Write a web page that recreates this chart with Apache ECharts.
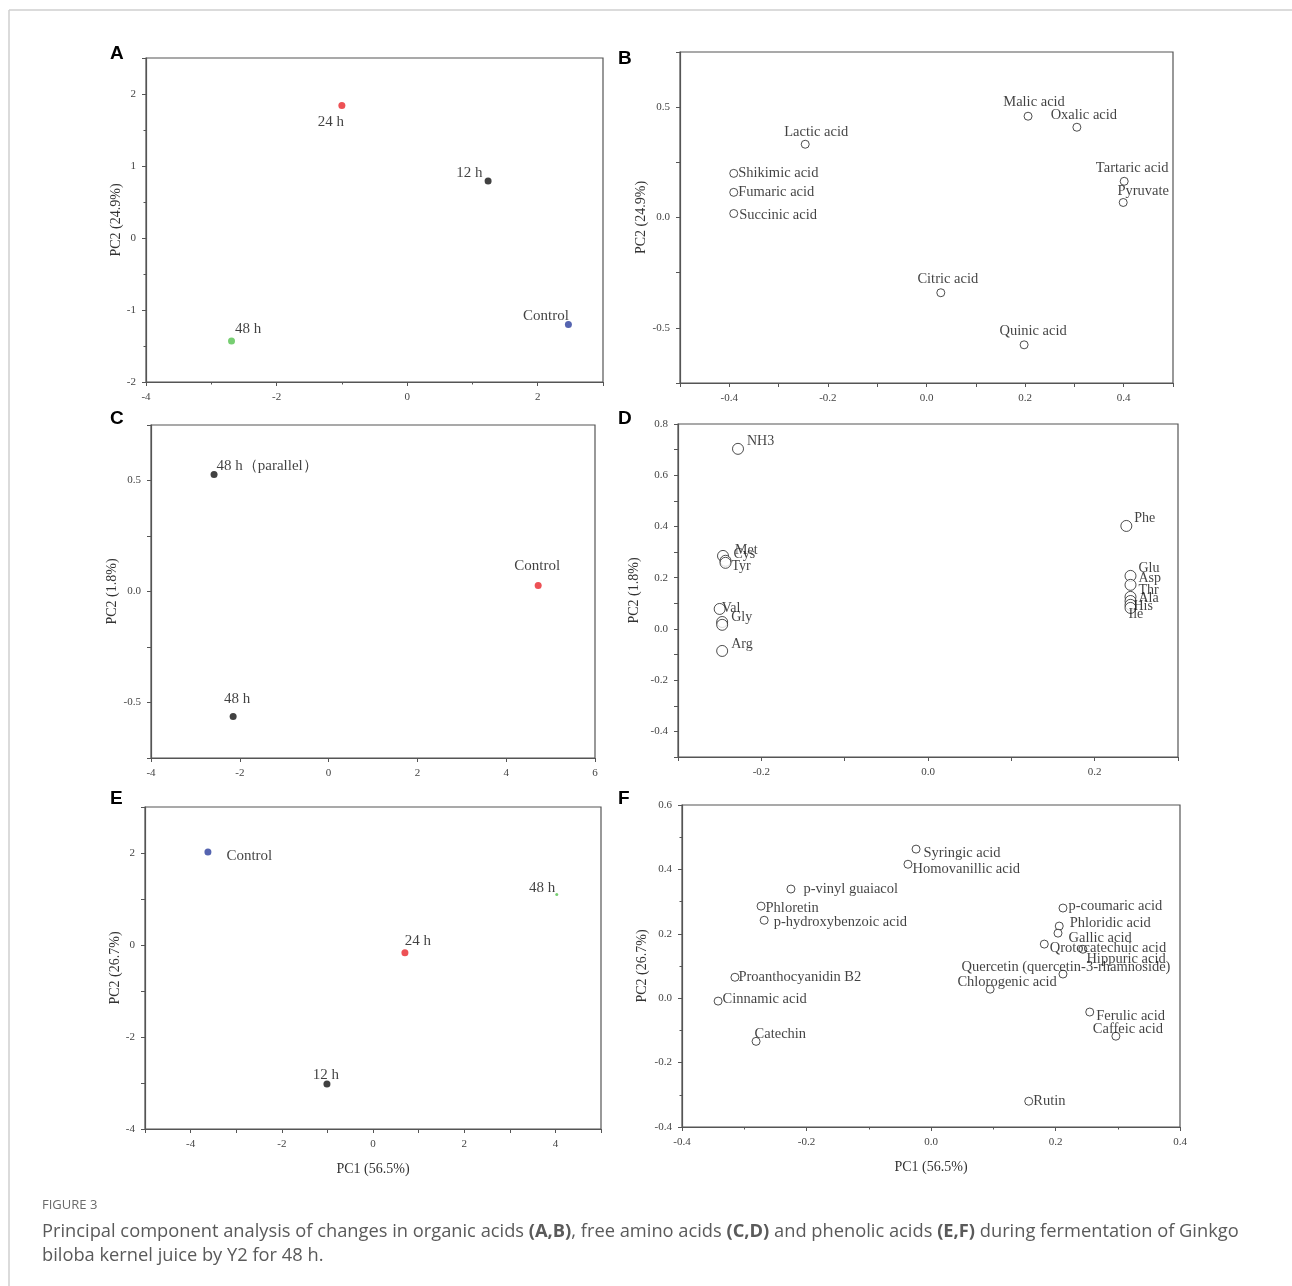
<!DOCTYPE html>
<html><head><meta charset="utf-8">
<script src="https://cdn.jsdelivr.net/npm/echarts@6/dist/echarts.min.js"></script>
<style>html,body{margin:0;padding:0;background:#fff}#c{width:1292px;height:1286px}</style>
</head><body><div id="c"></div>
<script>
// ---------- DATA ----------
// Panel A: organic acids, scores
const aNames = ['24 h', '12 h', 'Control', '48 h'];
const aPC1 = [-1.00, 1.24, 2.47, -2.69];
const aPC2 = [1.84, 0.79, -1.20, -1.43];
// Panel B: organic acids, loadings
const bNames = ['Malic acid', 'Oxalic acid', 'Lactic acid', 'Shikimic acid', 'Fumaric acid', 'Succinic acid', 'Tartaric acid', 'Pyruvate', 'Citric acid', 'Quinic acid'];
const bPC1 = [0.206, 0.305, -0.246, -0.391, -0.391, -0.391, 0.401, 0.399, 0.029, 0.198];
const bPC2 = [0.459, 0.409, 0.332, 0.200, 0.114, 0.018, 0.164, 0.068, -0.341, -0.577];
// Panel C: free amino acids, scores
const cNames = ['48 h（parallel）', 'Control', '48 h'];
const cPC1 = [-2.58, 4.72, -2.15];
const cPC2 = [0.527, 0.027, -0.563];
// Panel D: free amino acids, loadings
const dNames = ['NH3', 'Phe', 'Met', 'Cys', 'Tyr', 'Val', 'Gly', '', 'Arg', 'Glu', 'Asp', 'Thr', 'Ala', 'His', 'Ile'];
const dPC1 = [-0.228, 0.238, -0.246, -0.243, -0.243, -0.250, -0.247, -0.247, -0.247, 0.243, 0.243, 0.243, 0.243, 0.243, 0.243];
const dPC2 = [0.703, 0.402, 0.285, 0.266, 0.258, 0.078, 0.027, 0.016, -0.086, 0.207, 0.172, 0.125, 0.109, 0.094, 0.082];
// Panel E: phenolic acids, scores
const eNames = ['Control', '24 h', '12 h', '48 h'];
const ePC1 = [-3.62, 0.70, -1.01, 4.03];
const ePC2 = [2.02, -0.17, -3.02, 1.10];
// Panel F: phenolic acids, loadings
const fNames = ['Syringic acid', 'Homovanillic acid', 'p-vinyl guaiacol', 'Phloretin', 'p-hydroxybenzoic acid', 'Proanthocyanidin B2', 'Cinnamic acid', 'Catechin', 'p-coumaric acid', 'Phloridic acid', 'Gallic acid', 'Qrotocatechuic acid', 'Hippuric acid', 'Quercetin (quercetin-3-rhamnoside)', 'Chlorogenic acid', 'Ferulic acid', 'Caffeic acid', 'Rutin'];
const fPC1 = [-0.024, -0.037, -0.225, -0.273, -0.268, -0.315, -0.342, -0.281, 0.212, 0.206, 0.204, 0.182, 0.244, 0.212, 0.095, 0.255, 0.297, 0.157];
const fPC2 = [0.463, 0.416, 0.339, 0.286, 0.242, 0.065, -0.009, -0.134, 0.280, 0.224, 0.202, 0.168, 0.152, 0.075, 0.028, -0.043, -0.118, -0.320];

// ---------- STYLES ----------
const RED = '#e8252a', BLUE = '#2b3d9c', GREEN = '#55c24f', BLACK = '#111';
const aStyle = {'24 h': [RED, 'bottom', -11, 1], '12 h': [BLACK, 'left', 3, -8], 'Control': [BLUE, 'left', 9, -8], '48 h': [GREEN, 'right', -5, -12]};
const cStyle = {'48 h（parallel）': [BLACK, 'right', -6, -8], 'Control': [RED, 'top', -1, -3], '48 h': [BLACK, 'top', 4, -1]};
const eStyle = {'Control': [BLUE, 'right', 10, 4], '24 h': [RED, 'top', 13, 4], '12 h': [BLACK, 'top', -1, 7], '48 h': [GREEN, 'left', 5, -6]};
const bStyle = {'Malic acid': ['top', 6, 3], 'Oxalic acid': ['top', 7, 5], 'Lactic acid': ['top', 11, 5], 'Shikimic acid': ['right', -5, 0], 'Fumaric acid': ['right', -5, 0], 'Succinic acid': ['right', -4, 2], 'Tartaric acid': ['top', 8, 4], 'Pyruvate': ['top', 20, 6], 'Citric acid': ['top', 7, 3], 'Quinic acid': ['top', 9, 3]};
const dStyle = {'NH3': ['right', -2, -8], 'Phe': ['right', -3, -8], 'Met': ['right', 1, -6], 'Cys': ['right', -3, -6], 'Tyr': ['right', -5, 3], 'Val': ['right', -9, -1], 'Gly': ['right', -2, -5], '': ['right', 0, 0], 'Arg': ['right', -2, -7], 'Glu': ['right', -3, -8], 'Asp': ['right', -3, -7], 'Thr': ['right', -3, -7], 'Ala': ['right', -3, -3], 'His': ['right', -8, 1], 'Ile': ['right', -13, 6]};
const fStyle = {'Syringic acid': ['right', -2, 4], 'Homovanillic acid': ['right', -5, 5], 'p-vinyl guaiacol': ['right', 3, 0], 'Phloretin': ['right', -5, 2], 'p-hydroxybenzoic acid': ['right', 0, 2], 'Proanthocyanidin B2': ['right', -6, 0], 'Cinnamic acid': ['right', -5, -2], 'Catechin': ['right', -11, -7], 'p-coumaric acid': ['right', -4, -2], 'Phloridic acid': ['right', 1, -3], 'Gallic acid': ['right', 1, 5], 'Qrotocatechuic acid': ['right', -4, 4], 'Hippuric acid': ['right', -6, 10], 'Quercetin (quercetin-3-rhamnoside)': ['top', 3, 10], 'Chlorogenic acid': ['top', 17, 10], 'Ferulic acid': ['right', -3, 4], 'Caffeic acid': ['top', 12, 10], 'Rutin': ['right', -5, 0]};

const SERIF = '"Liberation Serif", "Times New Roman", serif';

const grids = [
  {left: 146, top: 58, width: 457, height: 324},
  {left: 680, top: 52, width: 493, height: 331},
  {left: 151, top: 425, width: 444, height: 333},
  {left: 678, top: 424, width: 500, height: 333},
  {left: 145, top: 807, width: 456, height: 322},
  {left: 682, top: 805, width: 498, height: 322}
].map(g => Object.assign({show: true, borderColor: '#555', borderWidth: 1.2, backgroundColor: 'transparent'}, g));

const lab = (step, dec) => v => {
  const r = v / step;
  if (Math.abs(r - Math.round(r)) > 1e-6) return '';
  const s = Math.abs(v) < 1e-9 ? 0 : v;
  return s.toFixed(dec);
};

function axis(i, min, max, interval, fmt, extra) {
  return Object.assign({
    type: 'value', gridIndex: i, min: min, max: max, interval: interval,
    splitLine: {show: false},
    axisLine: {show: true, onZero: false, lineStyle: {color: '#555', width: 1.2}},
    axisTick: {show: true, length: 4, lineStyle: {color: '#555'}},
    axisLabel: {formatter: fmt, fontFamily: SERIF, fontSize: 11, color: '#444', margin: 10, showMaxLabel: true, showMinLabel: true},
    nameTextStyle: {fontFamily: SERIF, fontSize: 14, color: '#333'}
  }, extra || {});
}
const minor = {minorTick: {show: true, splitNumber: 2, length: 2.5, lineStyle: {color: '#555'}}};
const yName = (n, gap) => ({name: n, nameLocation: 'middle', nameGap: gap});
const xName = (n, gap) => ({name: n, nameLocation: 'middle', nameGap: gap});

const xAxes = [
  axis(0, -4, 3, 2, lab(2, 0), minor),
  axis(1, -0.5, 0.5, 0.1, lab(0.2, 1)),
  axis(2, -4, 6, 2, lab(2, 0)),
  axis(3, -0.3, 0.3, 0.1, lab(0.2, 1)),
  axis(4, -5, 5, 1, lab(2, 0), xName('PC1 (56.5%)', 33)),
  axis(5, -0.4, 0.4, 0.2, lab(0.2, 1), Object.assign({}, minor, xName('PC1 (56.5%)', 33)))
];
const yAxes = [
  axis(0, -2, 2.5, 1, lab(1, 0), Object.assign({}, minor, yName('PC2 (24.9%)', 21))),
  axis(1, -0.75, 0.75, 0.25, lab(0.5, 1), yName('PC2 (24.9%)', 31)),
  axis(2, -0.75, 0.75, 0.25, lab(0.5, 1), yName('PC2 (1.8%)', 29)),
  axis(3, -0.5, 0.8, 0.1, lab(0.2, 1), yName('PC2 (1.8%)', 37)),
  axis(4, -4, 3, 1, lab(2, 0), yName('PC2 (26.7%)', 23)),
  axis(5, -0.4, 0.6, 0.2, lab(0.2, 1), Object.assign({}, minor, yName('PC2 (26.7%)', 33)))
];

function scoreSeries(i, names, xs, ys, style, sizes) {
  return {
    type: 'scatter', xAxisIndex: i, yAxisIndex: i, silent: true,
    data: names.map((n, k) => ({
      name: n, value: [xs[k], ys[k]],
      symbolSize: sizes && sizes[n] ? sizes[n] : 7,
      itemStyle: {color: style[n][0]},
      label: {show: true, formatter: '{b}', position: style[n][1], offset: [style[n][2], style[n][3]],
        fontFamily: SERIF, fontSize: 15, color: '#111', distance: 5}
    }))
  };
}
function loadSeries(i, names, xs, ys, style, size, fs) {
  return {
    type: 'scatter', xAxisIndex: i, yAxisIndex: i, silent: true,
    symbol: 'circle', symbolSize: size,
    itemStyle: {color: '#fff', borderColor: '#222', borderWidth: 1},
    data: names.map((n, k) => ({
      name: n, value: [xs[k], ys[k]],
      label: {show: n !== '', formatter: '{b}', position: style[n][0], offset: [style[n][1], style[n][2]],
        fontFamily: SERIF, fontSize: fs, color: '#111', distance: 5}
    }))
  };
}

const series = [
  scoreSeries(0, aNames, aPC1, aPC2, aStyle),
  loadSeries(1, bNames, bPC1, bPC2, bStyle, 8, 14.5),
  scoreSeries(2, cNames, cPC1, cPC2, cStyle),
  loadSeries(3, dNames, dPC1, dPC2, dStyle, 11, 14),
  scoreSeries(4, eNames, ePC1, ePC2, eStyle, {'48 h': 3}),
  loadSeries(5, fNames, fPC1, fPC2, fStyle, 8, 14.5)
];

const letters = [['A', 110, 44], ['B', 618, 49], ['C', 110, 409], ['D', 618, 409], ['E', 110, 789], ['F', 618, 789]];
const graphic = [
  {type: 'line', shape: {x1: 9, y1: 10, x2: 1292, y2: 10}, style: {stroke: '#cfcfcf', lineWidth: 1.5}},
  {type: 'line', shape: {x1: 9, y1: 10, x2: 9, y2: 1286}, style: {stroke: '#cfcfcf', lineWidth: 1.5}},
  {type: 'text', left: 42, top: 1199, style: {text: 'FIGURE 3', font: '13px "Open Sans", sans-serif', fill: '#6a6a6a'}},
  {type: 'text', left: 42, top: 1220, style: {
    text: 'Principal component analysis of changes in organic acids {b|(A,B)}, free amino acids {b|(C,D)} and phenolic acids {b|(E,F)} during fermentation of Ginkgo\nbiloba kernel juice by Y2 for 48 h.',
    fontFamily: '"Open Sans", sans-serif', fontSize: 18.3, fill: '#5a5a5a', lineHeight: 24,
    rich: {b: {fontWeight: 'bold', fontFamily: '"Open Sans", sans-serif', fontSize: 18.3, fill: '#5a5a5a', lineHeight: 24}}
  }}
].concat(letters.map(l => ({type: 'text', left: l[1], top: l[2], style: {text: l[0], font: 'bold 19px "Liberation Sans", Arial, sans-serif', fill: '#000'}})));

const chart = echarts.init(document.getElementById('c'), null, {renderer: 'canvas'});
chart.setOption({
  animation: false,
  backgroundColor: '#fff',
  grid: grids, xAxis: xAxes, yAxis: yAxes, series: series, graphic: graphic
});
</script></body></html>
